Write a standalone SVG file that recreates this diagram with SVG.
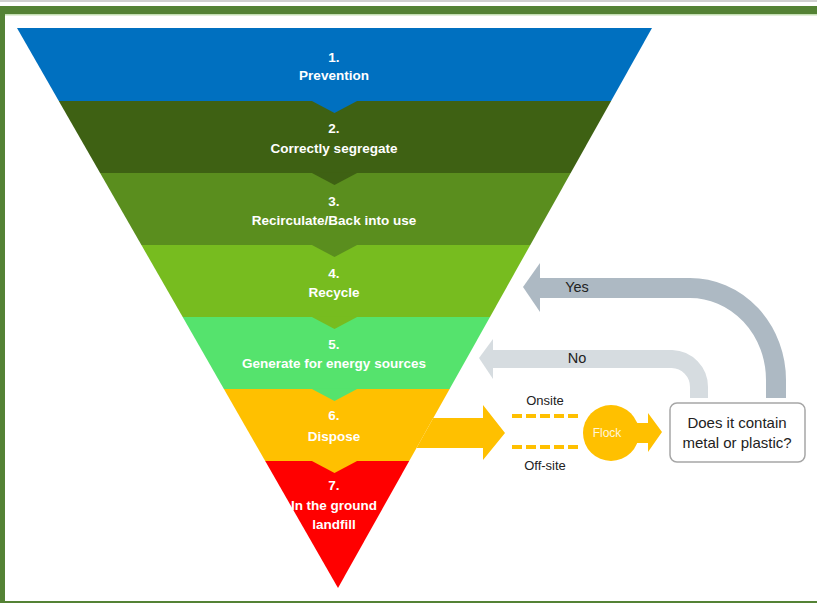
<svg xmlns="http://www.w3.org/2000/svg" width="817" height="603" viewBox="0 0 817 603">
<style>
.lbl{font-family:"Liberation Sans",Arial,sans-serif;font-weight:bold;font-size:13.5px;fill:#ffffff;text-anchor:middle}
.t{font-family:"Liberation Sans",Arial,sans-serif;fill:#222222;text-anchor:middle}
</style>
<rect x="0" y="0" width="817" height="603" fill="#ffffff"/>
<g id="frame">
<rect x="0" y="0" width="817" height="2" fill="#d0d0d0"/>
<rect x="0" y="6" width="817" height="8" fill="#548235"/>
<rect x="0" y="14" width="817" height="1.5" fill="#c5dfb4"/>
<rect x="0" y="6" width="5" height="597" fill="#548235"/>
<rect x="0" y="601" width="817" height="2" fill="#548235"/>
</g>
<g id="band1">
<polygon points="17,28 652,28 611.1,101 58.8,101" fill="#0070c0"/>
</g>
<g id="band2">
<polygon points="58.8,101 611.1,101 570.7,173 100.1,173" fill="#3e6113"/>
</g>
<g id="band3">
<polygon points="100.1,173 570.7,173 530.3,245 141.4,245" fill="#5a8e1e"/>
</g>
<g id="band4">
<polygon points="141.4,245 530.3,245 490,317 182.7,317" fill="#77bc1f"/>
</g>
<g id="band5">
<polygon points="182.7,317 490,317 449.6,389 223.9,389" fill="#55e36d"/>
</g>
<g id="band6">
<polygon points="223.9,389 449.6,389 409.2,461 265.2,461" fill="#ffc000"/>
</g>
<g id="band7">
<polygon points="265.2,461 409.2,461 338,588" fill="#ff0000"/>
</g>
<g id="notches">
<polygon points="311,100.5 358,100.5 334.5,113" fill="#0070c0"/>
<polygon points="311,172.5 358,172.5 334.5,185" fill="#3e6113"/>
<polygon points="311,244.5 358,244.5 334.5,257" fill="#5a8e1e"/>
<polygon points="311,316.5 358,316.5 334.5,329" fill="#77bc1f"/>
<polygon points="311,388.5 358,388.5 334.5,401" fill="#55e36d"/>
<polygon points="311,460.5 358,460.5 334.5,473" fill="#ffc000"/>
</g>
<g id="labels">
<text class="lbl" x="334" y="62">1.</text>
<text class="lbl" x="334" y="80">Prevention</text>
<text class="lbl" x="334" y="133">2.</text>
<text class="lbl" x="334" y="153">Correctly segregate</text>
<text class="lbl" x="334" y="206">3.</text>
<text class="lbl" x="334" y="225">Recirculate/Back into use</text>
<text class="lbl" x="334" y="278">4.</text>
<text class="lbl" x="334" y="297">Recycle</text>
<text class="lbl" x="334" y="349">5.</text>
<text class="lbl" x="334" y="368">Generate for energy sources</text>
<text class="lbl" x="334" y="420">6.</text>
<text class="lbl" x="334" y="441">Dispose</text>
<text class="lbl" x="334" y="490">7.</text>
<text class="lbl" x="334" y="510">In the ground</text>
<text class="lbl" x="334" y="529">landfill</text>
</g>
<g id="connectors">
<path d="M538,288 H690 A86,92 0 0 1 776,380 V398" fill="none" stroke="#adb9c3" stroke-width="20"/>
<polygon points="523,287 540,263 540,312" fill="#adb9c3"/>
<path d="M492,359 H672 A28,28 0 0 1 699,387 V398" fill="none" stroke="#d6dce0" stroke-width="18"/>
<polygon points="479,358 493,339 493,379" fill="#d6dce0"/>
<polygon points="433.3,418 483,418 483,405 505,433 483,460 483,448 416.5,448" fill="#ffc000"/>
<line x1="512" y1="416" x2="578" y2="416" stroke="#ffc000" stroke-width="4" stroke-dasharray="10,4"/>
<line x1="512" y1="447" x2="578" y2="447" stroke="#ffc000" stroke-width="4" stroke-dasharray="10,4"/>
<polygon points="630,423 648,423 648,413 662,432 648,452 648,443 630,443" fill="#ffc000"/>
<text class="t" x="577" y="292" font-size="14.5">Yes</text>
<text class="t" x="577" y="363" font-size="14.5">No</text>
<text class="t" x="545" y="405" font-size="13">Onsite</text>
<text class="t" x="545" y="470" font-size="13">Off-site</text>
</g>
<g id="flock">
<circle cx="611" cy="433" r="28" fill="#ffc000"/>
<text x="607" y="437" font-family="'Liberation Sans',Arial,sans-serif" font-size="12" fill="#fff6dc" text-anchor="middle">Flock</text>
</g>
<g id="question">
<rect x="670" y="403" width="135" height="59" rx="7" fill="#ffffff" stroke="#a6a6a6" stroke-width="1.5"/>
<text class="t" x="737" y="428" font-size="15">Does it contain</text>
<text class="t" x="737" y="448" font-size="15">metal or plastic?</text>
</g>
</svg>
